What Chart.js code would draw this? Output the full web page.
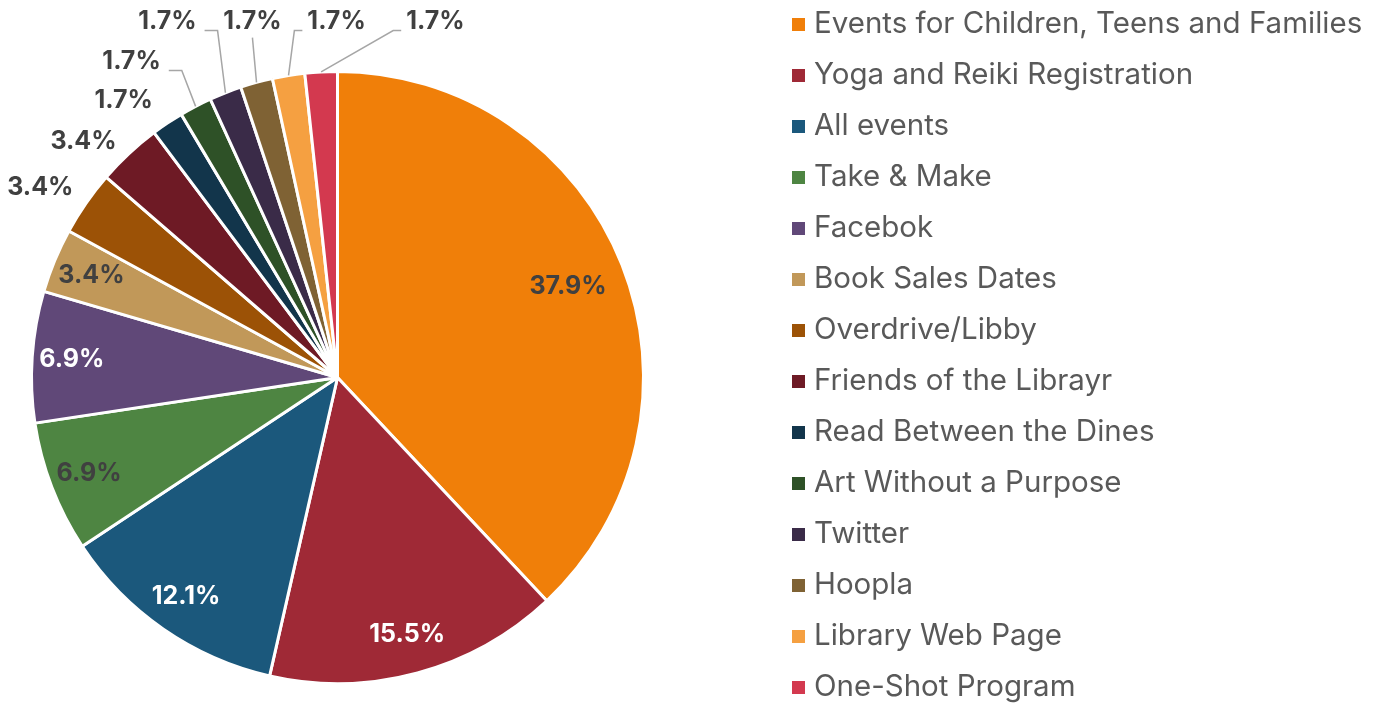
<!DOCTYPE html>
<html>
<head>
<meta charset="utf-8">
<title>Pie</title>
<script src="https://cdn.jsdelivr.net/npm/chart.js@4.4.1/dist/chart.umd.min.js"></script>
<style>
    html, body { margin: 0; padding: 0; background: #ffffff; }
    #chart { display: block; }
</style>
</head>
<body>
<canvas id="chart" width="1384" height="703"></canvas>
<script>

let categories = [
    "Events for Children, Teens and Families",
    "Yoga and Reiki Registration",
    "All events",
    "Take & Make",
    "Facebok",
    "Book Sales Dates",
    "Overdrive/Libby",
    "Friends of the Librayr",
    "Read Between the Dines",
    "Art Without a Purpose",
    "Twitter",
    "Hoopla",
    "Library Web Page",
    "One-Shot Program"
];

let shares = [37.9, 15.5, 12.1, 6.9, 6.9, 3.4, 3.4, 3.4, 1.7, 1.7, 1.7, 1.7, 1.7, 1.7];

let sliceColors = [
    "#F07F09", "#9F2936", "#1B587C", "#4E8542", "#604878", "#C19859", "#9C5206",
    "#6E1A25", "#12354B", "#2E5127", "#3A2B48", "#7F6234", "#F5A041", "#D3394F"
];

let labelColors = [
    "#404040", "#ffffff", "#ffffff", "#404040", "#ffffff", "#404040", "#404040",
    "#404040", "#404040", "#404040", "#404040", "#404040", "#404040", "#404040"
];

// Zahl = Beschriftung innen (Anteil vom Radius), Paar = aussen (Versatz vom Mittelpunkt in Radien)
let labelPlacement = [
    0.81, 0.87, 0.87, 0.87, 0.87, 0.87,
    [-0.971, -0.621], [-0.830, -0.771], [-0.699, -0.905], [-0.673, -1.033],
    [-0.556, -1.163], [-0.278, -1.163], [-0.003, -1.163], [0.320, -1.163]
];

const fontFamily = 'Inter, "Noto Sans", sans-serif';

function drawLeader(ctx, box, ly, ex, ey) {
    /*
        Zeichnet die graue Führungslinie vom Label zum Rand des Segments.
     */
    ctx.beginPath();
    if (ex > box.r + 10) {
        let sx = box.r + 8;
        ctx.moveTo(sx, ly + 9);
        ctx.lineTo(sx + 13, ly + 9);
    } else if (ex < box.l - 10) {
        let sx = box.l - 5;
        ctx.moveTo(sx, ly + 9);
        ctx.lineTo(sx - 8, ly + 9);
    } else {
        ctx.moveTo((box.l + box.r) / 2, box.b + 6);
    }
    ctx.lineTo(ex, ey);
    ctx.stroke();
}

const pieLabels = {
    id: 'pieLabels',
    afterDatasetsDraw(chart) {
        /*
            Prozentwerte in bzw. neben die Segmente schreiben.
         */
        let ctx = chart.ctx;
        let arcs = chart.getDatasetMeta(0).data;

        ctx.save();
        ctx.font = 'bold 25px ' + fontFamily;
        ctx.textAlign = 'center';
        ctx.textBaseline = 'middle';
        ctx.strokeStyle = '#A6A6A6';
        ctx.lineWidth = 1.5;

        for (let i = 0; i < arcs.length; i++) {
            let p = arcs[i].getProps(['x', 'y', 'startAngle', 'endAngle', 'outerRadius'], true);
            let mid = (p.startAngle + p.endAngle) / 2;
            let text = shares[i].toFixed(1) + '%';
            let place = labelPlacement[i];
            let lx, ly;

            if (typeof place === 'number') {
                lx = p.x + Math.cos(mid) * p.outerRadius * place;
                ly = p.y + Math.sin(mid) * p.outerRadius * place;
            } else {
                lx = p.x + place[0] * p.outerRadius;
                ly = p.y + place[1] * p.outerRadius;

                let ex = p.x + Math.cos(mid) * p.outerRadius;
                let ey = p.y + Math.sin(mid) * p.outerRadius;
                let w = ctx.measureText(text).width;
                let box = {l: lx - w / 2, r: lx + w / 2, t: ly - 10, b: ly + 10};
                let gx = Math.max(box.l - ex, 0, ex - box.r);
                let gy = Math.max(box.t - ey, 0, ey - box.b);
                if (Math.hypot(gx, gy) > 30) drawLeader(ctx, box, ly, ex, ey);
            }

            ctx.fillStyle = labelColors[i];
            ctx.fillText(text, lx, ly);
        }
        ctx.restore();
    }
};

const sideLegend = {
    id: 'sideLegend',
    afterDraw(chart, args, opts) {
        /*
            Legende rechts, eine Zeile pro Kategorie.
         */
        let ctx = chart.ctx;
        let labels = chart.data.labels;
        let colors = chart.data.datasets[0].backgroundColor;

        ctx.save();
        ctx.font = opts.fontSize + 'px ' + fontFamily;
        ctx.textBaseline = 'alphabetic';
        ctx.textAlign = 'left';
        for (let i = 0; i < labels.length; i++) {
            let base = opts.firstBaseline + i * opts.rowGap;
            ctx.fillStyle = colors[i];
            ctx.fillRect(opts.x, base - 15, opts.box, opts.box);
            ctx.fillStyle = opts.color;
            ctx.fillText(labels[i], opts.x + opts.box + opts.textGap, base);
        }
        ctx.restore();
    }
};

let chart = new Chart(document.getElementById('chart').getContext('2d'), {
    type: 'pie',
    data: {
        labels: categories,
        datasets: [{
            data: shares,
            backgroundColor: sliceColors,
            borderColor: '#ffffff',
            borderWidth: 3
        }]
    },
    options: {
        responsive: false,
        animation: false,
        layout: {
            padding: {left: 30, top: 70, right: 739, bottom: 18}
        },
        plugins: {
            legend: {display: false},
            tooltip: {enabled: false},
            sideLegend: {
                x: 792,
                box: 13,
                textGap: 9,
                firstBaseline: 33,
                rowGap: 51,
                fontSize: 29.5,
                color: '#595959'
            }
        }
    },
    plugins: [pieLabels, sideLegend]
});

</script>
</body>
</html>
